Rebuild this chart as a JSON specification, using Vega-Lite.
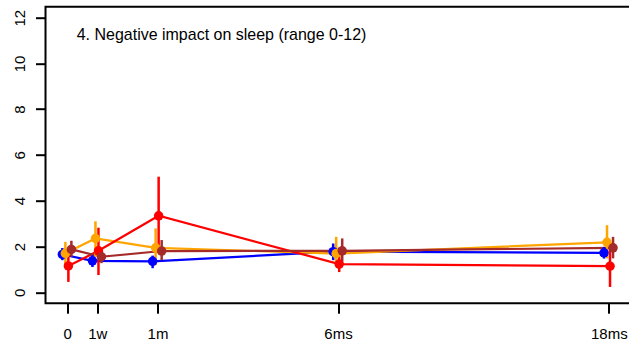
{
  "$schema": "https://vega.github.io/schema/vega-lite/v6.json",
  "width": 585,
  "height": 296.5,
  "autosize": "none",
  "padding": {"left": 45.5, "top": 6.7, "right": 0, "bottom": 42},
  "background": "white",
  "config": {
    "view": {"stroke": "black", "strokeWidth": 2},
    "font": "Liberation Sans"
  },
  "title": {
    "text": "4. Negative impact on sleep (range 0-12)",
    "anchor": "start",
    "frame": "group",
    "orient": "top",
    "offset": -33,
    "dx": 31.2,
    "dy": 16,
    "fontSize": 16,
    "fontWeight": "normal",
    "baseline": "alphabetic",
    "color": "black",
    "font": "Liberation Sans"
  },
  "data": {
    "values": [
      {"g": "g1", "t": 0, "mean": 1.65, "lo": 1.4, "hi": 1.93},
      {"g": "g1", "t": 1, "mean": 1.37, "lo": 1.1, "hi": 1.62},
      {"g": "g1", "t": 3, "mean": 1.35, "lo": 1.05, "hi": 1.6},
      {"g": "g1", "t": 9, "mean": 1.77, "lo": 1.4, "hi": 2.13},
      {"g": "g1", "t": 18, "mean": 1.72, "lo": 1.47, "hi": 1.98},
      {"g": "g2", "t": 0, "mean": 1.7, "lo": 1.18, "hi": 2.2},
      {"g": "g2", "t": 1, "mean": 2.35, "lo": 1.55, "hi": 3.1},
      {"g": "g2", "t": 3, "mean": 1.94, "lo": 1.18, "hi": 2.79},
      {"g": "g2", "t": 9, "mean": 1.69, "lo": 1.1, "hi": 2.42},
      {"g": "g2", "t": 18, "mean": 2.18, "lo": 1.48, "hi": 2.93},
      {"g": "g3", "t": 0, "mean": 1.15, "lo": 0.45, "hi": 1.8},
      {"g": "g3", "t": 1, "mean": 1.81, "lo": 0.75, "hi": 2.82},
      {"g": "g3", "t": 3, "mean": 3.34, "lo": 1.7, "hi": 5.05},
      {"g": "g3", "t": 9, "mean": 1.23, "lo": 0.88, "hi": 1.95},
      {"g": "g3", "t": 18, "mean": 1.14, "lo": 0.23, "hi": 2.0},
      {"g": "g4", "t": 0, "mean": 1.87, "lo": 1.55, "hi": 2.25},
      {"g": "g4", "t": 1, "mean": 1.55, "lo": 1.27, "hi": 1.84},
      {"g": "g4", "t": 3, "mean": 1.8, "lo": 1.4, "hi": 2.28},
      {"g": "g4", "t": 9, "mean": 1.81, "lo": 1.33, "hi": 2.35},
      {"g": "g4", "t": 18, "mean": 1.94, "lo": 1.48, "hi": 2.42}
    ]
  },
  "transform": [
    {"calculate": "datum.t + (indexof(['g1','g2','g3','g4'], datum.g) - 1.6) * 0.1", "as": "tx"}
  ],
  "encoding": {
    "x": {
      "field": "tx",
      "type": "quantitative",
      "scale": {"domain": [-0.72, 18.72], "nice": false, "zero": false},
      "axis": {
        "values": [0, 1, 3, 9, 18],
        "labelExpr": "datum.value == 0 ? '0' : datum.value == 1 ? '1w' : datum.value == 3 ? '1m' : datum.value == 9 ? '6ms' : '18ms'",
        "domain": false,
        "grid": false,
        "tickSize": 10,
        "tickWidth": 2,
        "tickColor": "black",
        "labelFontSize": 15,
        "labelColor": "black",
        "labelPadding": 13,
        "labelFlush": false,
        "labelOverlap": false,
        "title": null
      }
    },
    "color": {
      "field": "g",
      "type": "nominal",
      "scale": {"domain": ["g1", "g2", "g3", "g4"], "range": ["#0000FF", "#FFA500", "#FF0000", "#A52A2A"]},
      "legend": null
    }
  },
  "layer": [
    {
      "mark": {"type": "line", "strokeWidth": 2.2},
      "encoding": {
        "y": {
          "field": "mean",
          "type": "quantitative",
          "scale": {"domain": [-0.48, 12.48], "nice": false, "zero": false},
          "axis": {
            "values": [0, 2, 4, 6, 8, 10, 12],
            "domain": false,
            "grid": false,
            "tickSize": 10,
            "tickWidth": 2,
            "tickColor": "black",
            "labelAngle": -90,
            "labelAlign": "center",
            "labelBaseline": "middle",
            "labelPadding": 16,
            "labelFontSize": 15,
            "labelColor": "black",
            "labelFlush": false,
            "title": null
          }
        },
        "order": {"field": "t"}
      }
    },
    {
      "mark": {"type": "rule", "strokeWidth": 2.5},
      "encoding": {
        "y": {"field": "lo", "type": "quantitative"},
        "y2": {"field": "hi"}
      }
    },
    {
      "mark": {"type": "point", "filled": true, "size": 90, "opacity": 1},
      "encoding": {
        "y": {"field": "mean", "type": "quantitative"}
      }
    }
  ]
}
